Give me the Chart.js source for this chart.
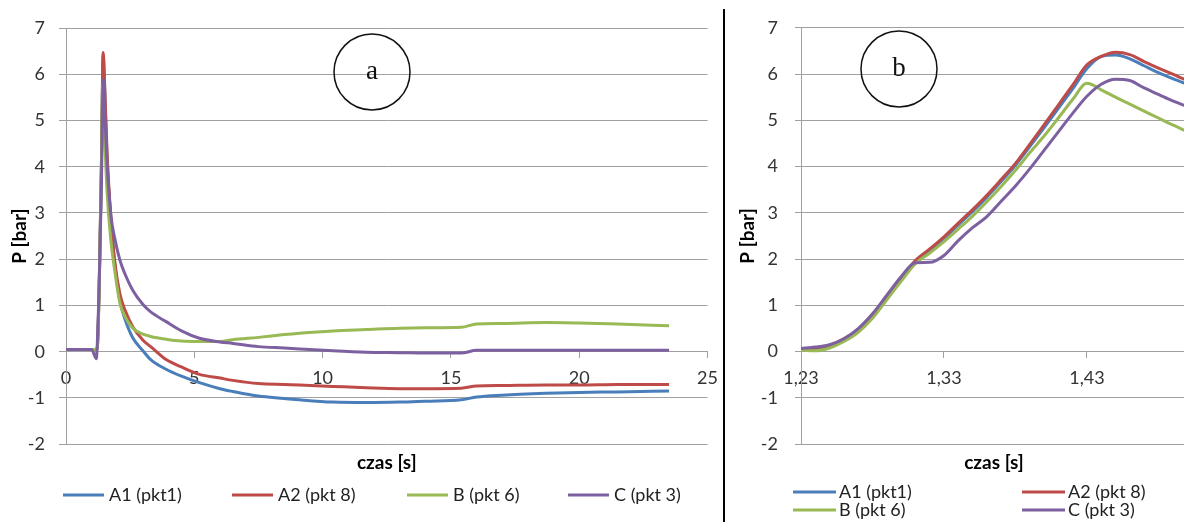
<!DOCTYPE html>
<html lang="pl">
<head>
<meta charset="utf-8">
<title>P [bar] - czas [s]</title>
<script src="https://cdn.jsdelivr.net/npm/chart.js@4/dist/chart.umd.min.js"></script>
<style>
    html, body { margin: 0; padding: 0; background: #fff; }
    body { width: 1184px; height: 527px; position: relative; overflow: hidden; }
    #boxA { position: absolute; left: 0; top: 0; width: 728px; height: 527px; }
    #boxB { position: absolute; left: 730px; top: 0; width: 494px; height: 527px; }
    #sep { position: absolute; left: 723px; top: 9px; width: 2px; height: 513px; background: #000; }
</style>
</head>
<body>
<div id="boxA"><canvas id="chartA"></canvas></div>
<div id="boxB"><canvas id="chartB"></canvas></div>
<div id="sep"></div>
<script>
// (a) caly przebieg
const czasA = [0, 1.0, 1.18, 1.21, 1.3, 1.38, 1.43, 1.45, 1.5, 1.6, 1.75, 1.9, 2.1, 2.3, 2.6, 3.0, 3.3, 3.9,
    4.5, 5.2, 6.0, 6.5, 7.5, 8.5, 9.1, 10.4, 11.7, 13, 14, 15.4, 16, 17, 18.7, 20, 21.5, 23.5];
const a1A = [0.05, 0.05, 0.05, 0.05, 1.58, 4.03, 6.12, 6.41, 5.78, 4.2, 2.8, 1.9, 1.1, 0.7, 0.3, 0.02, -0.17, -0.38,
    -0.53, -0.67, -0.80, -0.86, -0.96, -1.01, -1.04, -1.09, -1.10, -1.09, -1.07, -1.04, -0.98, -0.94, -0.90, -0.88, -0.87, -0.85];
const a2A = [0.05, 0.05, 0.05, 0.05, 1.60, 4.07, 6.20, 6.47, 5.86, 4.3, 2.9, 1.95, 1.25, 0.9, 0.54, 0.25, 0.11, -0.17,
    -0.33, -0.49, -0.57, -0.62, -0.69, -0.71, -0.72, -0.75, -0.78, -0.80, -0.80, -0.79, -0.74, -0.73, -0.72, -0.72, -0.71, -0.71];
const bA = [0.05, 0.05, 0.05, 0.05, 1.52, 3.92, 5.80, 5.50, 4.76, 3.45, 2.4, 1.75, 1.05, 0.76, 0.51, 0.38, 0.33, 0.27,
    0.23, 0.22, 0.22, 0.26, 0.31, 0.37, 0.40, 0.45, 0.48, 0.51, 0.52, 0.53, 0.60, 0.61, 0.63, 0.62, 0.60, 0.56];
const cA = [0.05, 0.05, -0.15, 0.05, 1.62, 3.58, 5.52, 5.89, 5.30, 4.05, 2.95, 2.45, 1.98, 1.68, 1.33, 1.02, 0.86, 0.65,
    0.45, 0.29, 0.21, 0.18, 0.11, 0.08, 0.06, 0.02, -0.01, -0.02, -0.03, -0.03, 0.03, 0.03, 0.03, 0.03, 0.03, 0.03];
const ticksXA = [0, 5, 10, 15, 20, 25];

// (b) narastanie cisnienia
const czasB = [1.23, 1.24, 1.25, 1.26, 1.27, 1.28, 1.29, 1.30, 1.31, 1.32, 1.33, 1.34, 1.35, 1.36,
    1.37, 1.38, 1.39, 1.40, 1.41, 1.42, 1.43, 1.44, 1.45, 1.46, 1.47, 1.48, 1.49, 1.50];
const a1B = [0.05, 0.04, 0.10, 0.24, 0.45, 0.76, 1.16, 1.58, 1.95, 2.19, 2.45, 2.74, 3.03, 3.34,
    3.68, 4.03, 4.43, 4.84, 5.26, 5.68, 6.12, 6.38, 6.41, 6.33, 6.18, 6.03, 5.90, 5.78];
const a2B = [0.05, 0.08, 0.14, 0.28, 0.48, 0.78, 1.18, 1.60, 1.97, 2.22, 2.48, 2.78, 3.07, 3.38,
    3.72, 4.07, 4.48, 4.90, 5.33, 5.76, 6.20, 6.38, 6.47, 6.42, 6.27, 6.13, 6.00, 5.86];
const bB = [0.03, 0.02, 0.08, 0.22, 0.42, 0.72, 1.12, 1.52, 1.90, 2.13, 2.38, 2.65, 2.93, 3.24,
    3.57, 3.92, 4.30, 4.66, 5.05, 5.45, 5.80, 5.66, 5.50, 5.35, 5.20, 5.05, 4.90, 4.76];
const cB = [0.07, 0.10, 0.15, 0.28, 0.50, 0.82, 1.22, 1.62, 1.92, 1.93, 2.08, 2.40, 2.68, 2.92,
    3.25, 3.58, 3.95, 4.35, 4.75, 5.15, 5.52, 5.78, 5.89, 5.86, 5.70, 5.56, 5.42, 5.30];
const ticksXB = [1.23, 1.33, 1.43];

const ticksY = [-2, -1, 0, 1, 2, 3, 4, 5, 6, 7];
const seriesNames = ["A1 (pkt1)", "A2 (pkt 8)", "B (pkt 6)", "C (pkt 3)"];
const seriesColors = ["#4a7ebb", "#be4b48", "#98b954", "#7d60a0"];

const gridColor = "#a0a0a0";
const tickFont = { family: "Lato", size: 18 };
const titleFont = { family: "Lato", size: 19, weight: "bold" };

// legenda w siatce (kolumny jak w Excelu)
const legendGrid = {
    id: "legendGrid",
    afterDraw(chart, args, opts) {
        const ctx = chart.ctx;
        ctx.save();
        ctx.font = opts.font;
        ctx.textBaseline = "middle";
        ctx.textAlign = "left";
        chart.data.datasets.forEach((ds, i) => {
            const x = opts.cols[i % opts.cols.length];
            const y = opts.rows[Math.floor(i / opts.cols.length)];
            ctx.strokeStyle = ds.borderColor;
            ctx.lineWidth = 3;
            ctx.beginPath();
            ctx.moveTo(x, y);
            ctx.lineTo(x + opts.boxWidth, y);
            ctx.stroke();
            ctx.fillStyle = opts.color;
            ctx.fillText(ds.label, x + opts.boxWidth + opts.gap, y);
        });
        ctx.restore();
    },
};

// kolko z litera (a) / (b)
const badge = {
    id: "badge",
    afterDraw(chart, args, opts) {
        const ctx = chart.ctx;
        ctx.save();
        ctx.beginPath();
        ctx.arc(opts.x, opts.y, opts.r, 0, Math.PI * 2);
        ctx.lineWidth = 1.5;
        ctx.strokeStyle = "#111";
        ctx.stroke();
        ctx.font = opts.font;
        ctx.fillStyle = "#111";
        ctx.textAlign = "center";
        ctx.textBaseline = "middle";
        ctx.fillText(opts.text, opts.x, opts.y);
        ctx.restore();
    },
};

const toPoints = (czas, values) => values.map((v, i) => ({ x: czas[i], y: v }));

const buildDatasets = (czas, seriesList) =>
    seriesList.map((values, i) => ({
        label: seriesNames[i],
        data: toPoints(czas, values),
        borderColor: seriesColors[i],
        backgroundColor: seriesColors[i],
        borderWidth: 3,
        pointRadius: 0,
        cubicInterpolationMode: "monotone",
        order: seriesList.length - i,
    }));

const getConfig = (czas, seriesList, set) => ({
    type: "line",
    data: { datasets: buildDatasets(czas, seriesList) },
    options: {
        responsive: true,
        maintainAspectRatio: false,
        animation: false,
        layout: { padding: set.padding },
        scales: {
            x: {
                type: "linear",
                position: { y: 0 },
                min: set.xMin,
                max: set.xMax,
                afterBuildTicks: (scale) => {
                    scale.ticks = set.xTicks.map((v) => ({ value: v }));
                },
                ticks: {
                    font: tickFont,
                    color: "#333",
                    padding: 10,
                    maxRotation: 0,
                    autoSkip: false,
                    callback: set.xLabel,
                },
                grid: { drawOnChartArea: false, drawTicks: true, tickLength: 6, color: gridColor },
                border: { color: gridColor },
            },
            y: {
                min: -2,
                max: 7,
                afterBuildTicks: (scale) => {
                    scale.ticks = ticksY.map((v) => ({ value: v }));
                },
                afterFit: (scale) => {
                    scale.width = set.yWidth;
                },
                ticks: { font: tickFont, color: "#333", padding: set.yTickPad },
                grid: { color: gridColor, tickLength: set.yTickLen },
                border: { color: gridColor },
                title: {
                    display: true,
                    text: "P [bar]",
                    font: titleFont,
                    color: "#000",
                    padding: { top: set.yTitlePad, bottom: 0 },
                },
            },
        },
        plugins: {
            legend: { display: false },
            tooltip: { enabled: false },
            title: {
                display: true,
                text: "czas [s]",
                position: "bottom",
                fullSize: false,
                font: titleFont,
                color: "#000",
                padding: { top: 7, bottom: 0 },
            },
            legendGrid: set.legend,
            badge: set.badge,
        },
    },
    plugins: [legendGrid, badge],
});

new Chart(document.getElementById("chartA"), getConfig(czasA, [a1A, a2A, bA, cA], {
    padding: { left: 0, right: 0, top: 28, bottom: 53 },
    xMin: 0,
    xMax: 25,
    xTicks: ticksXA,
    xLabel: (v) => String(v),
    yWidth: 66,
    yTickPad: 14,
    yTickLen: 7,
    yTitlePad: 8,
    legend: { cols: [63, 232, 407, 568], rows: [495], boxWidth: 41, gap: 5, font: "18px Lato", color: "#222" },
    badge: { x: 372, y: 72, r: 38, text: "a", font: "27px 'Liberation Serif'" },
}));

new Chart(document.getElementById("chartB"), getConfig(czasB, [a1B, a2B, bB, cB], {
    padding: { left: 0, right: 37, top: 24, bottom: 53 },
    xMin: 1.23,
    xMax: 1.5,
    xTicks: ticksXB,
    xLabel: (v) => v.toFixed(2).replace(".", ","),
    yWidth: 71,
    yTickPad: 17,
    yTickLen: 6,
    yTitlePad: 6,
    legend: { cols: [63, 292], rows: [492, 510], boxWidth: 43, gap: 3, font: "18px Lato", color: "#222" },
    badge: { x: 169, y: 69, r: 38, text: "b", font: "27px 'Liberation Serif'" },
}));
</script>
</body>
</html>
